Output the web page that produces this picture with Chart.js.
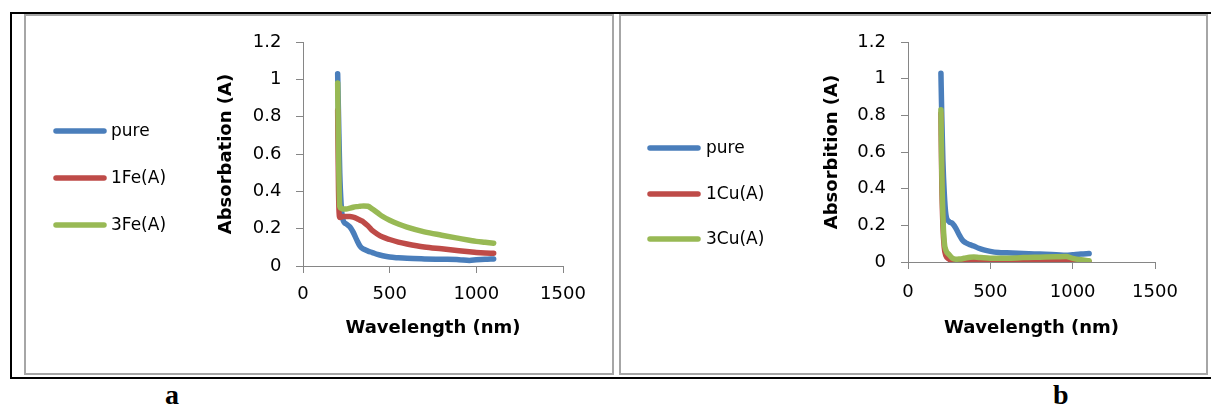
<!DOCTYPE html>
<html>
<head>
<meta charset="utf-8">
<script src="https://cdn.jsdelivr.net/npm/chart.js@4.4.0/dist/chart.umd.min.js"></script>
<style>
  body { margin: 0; width: 1211px; height: 407px; overflow: hidden; background: #fff; position: relative; }
  .outer { position: absolute; left: 10px; top: 12px; width: 1201px; height: 367px; box-sizing: border-box;
           border-left: 2px solid #000; border-top: 2px solid #000; border-bottom: 2px solid #000; }
  .panel { position: absolute; top: 14px; height: 361px; box-sizing: border-box; border: 2px solid #a6a6a6; }
  canvas { position: absolute; top: 16px; }
  .cap { position: absolute; top: 381px; font: bold 28px "Liberation Serif", serif; line-height: 28px; }
</style>
</head>
<body>
<div class="outer"></div>
<div class="panel" style="left:24px; width:590px;"></div>
<div class="panel" style="left:619px; width:589px;"></div>
<canvas id="chartFe" width="586" height="357" style="left:26px;"></canvas>
<canvas id="chartCu" width="585" height="357" style="left:621px;"></canvas>
<div class="cap" style="left:165px;">a</div>
<div class="cap" style="left:1053px;">b</div>
<script>
// UV-Vis spectra, wavelength in nm
const wavelength = [200, 205, 212, 220, 230, 250, 270, 290, 310, 330, 350, 375, 400, 430, 460, 500, 550, 600, 700, 800, 900, 960, 1000, 1050, 1100];

// panel a (Fe doped)
const fePure = [1.03, 0.80, 0.50, 0.33, 0.25, 0.225, 0.21, 0.18, 0.14, 0.105, 0.09, 0.08, 0.072, 0.062, 0.055, 0.048, 0.044, 0.041, 0.038, 0.036, 0.034, 0.030, 0.033, 0.036, 0.038];
const fe1 = [0.835, 0.40, 0.26, 0.262, 0.265, 0.265, 0.265, 0.262, 0.255, 0.245, 0.235, 0.215, 0.19, 0.17, 0.155, 0.142, 0.128, 0.118, 0.102, 0.092, 0.082, 0.076, 0.072, 0.069, 0.068];
const fe3 = [0.98, 0.60, 0.32, 0.31, 0.305, 0.305, 0.31, 0.315, 0.318, 0.32, 0.322, 0.32, 0.305, 0.285, 0.265, 0.245, 0.225, 0.208, 0.183, 0.165, 0.148, 0.138, 0.132, 0.127, 0.122];

// panel b (Cu doped)
const cuPure = [1.03, 0.80, 0.55, 0.38, 0.26, 0.22, 0.21, 0.185, 0.15, 0.12, 0.105, 0.095, 0.087, 0.075, 0.066, 0.058, 0.052, 0.05, 0.046, 0.043, 0.04, 0.037, 0.04, 0.044, 0.046];
const cu1 = [0.81, 0.45, 0.20, 0.08, 0.035, 0.015, 0.005, 0.0, 0.0, 0.0, 0.002, 0.003, 0.004, 0.004, 0.004, 0.004, 0.004, 0.005, 0.006, 0.008, 0.01, 0.01, 0.006, 0.002, 0.0];
const cu3 = [0.83, 0.50, 0.25, 0.11, 0.065, 0.04, 0.02, 0.015, 0.016, 0.018, 0.022, 0.026, 0.027, 0.025, 0.023, 0.021, 0.02, 0.02, 0.024, 0.026, 0.028, 0.03, 0.02, 0.012, 0.007];

const xTicks = [0, 500, 1000, 1500];
const yTicks = [0, 0.2, 0.4, 0.6, 0.8, 1, 1.2];

const BLUE = "#4a7ebb", RED = "#be4b48", GREEN = "#98b954", AXIS = "#868686";

Chart.defaults.font.family = "'DejaVu Sans', sans-serif";
Chart.defaults.color = "#000";

// legend drawn to the left of the plot: a thick line swatch and the label
const sideLegend = {
  id: "sideLegend",
  afterDraw(chart, args, opts) {
    const ctx = chart.ctx;
    ctx.save();
    ctx.font = "17px 'DejaVu Sans'";
    ctx.textBaseline = "middle";
    chart.data.datasets.forEach((ds, i) => {
      const y = opts.y[i];
      ctx.strokeStyle = ds.borderColor;
      ctx.lineWidth = 5.5;
      ctx.lineCap = "round";
      ctx.beginPath();
      ctx.moveTo(opts.x0, y);
      ctx.lineTo(opts.x1, y);
      ctx.stroke();
      ctx.fillStyle = "#000";
      ctx.fillText(ds.label, opts.textX, y + 1);
    });
    ctx.restore();
  }
};

function series(label, values, color, order) {
  return {
    label: label,
    data: wavelength.map((w, i) => ({ x: w, y: values[i] })),
    borderColor: color,
    backgroundColor: color,
    showLine: true,
    order: order
  };
}

function makeChart(id, datasets, p) {
  return new Chart(document.getElementById(id), {
    type: "scatter",
    data: { datasets: datasets },
    options: {
      responsive: false,
      animation: false,
      devicePixelRatio: 1,
      layout: { padding: { left: 150, top: 26, right: p.right, bottom: 34 } },
      elements: {
        point: { radius: 0, hoverRadius: 0 },
        line: { borderWidth: 5.5, tension: 0.4, cubicInterpolationMode: "monotone", borderCapStyle: "round", borderJoinStyle: "round" }
      },
      plugins: {
        legend: { display: false },
        tooltip: { enabled: false },
        sideLegend: p.legend
      },
      scales: {
        x: {
          type: "linear", min: 0, max: 1500,
          afterBuildTicks: s => { s.ticks = xTicks.map(v => ({ value: v })); },
          afterFit: s => { s.height = p.xHeight; },
          grid: { drawOnChartArea: false, color: AXIS, tickLength: 7 },
          border: { color: AXIS, width: 1 },
          ticks: { padding: p.xPad, maxRotation: 0, font: { size: 18 }, callback: v => String(v) },
          title: { display: true, text: "Wavelength (nm)", font: { size: 18, weight: "bold" }, padding: 0 }
        },
        y: {
          min: 0, max: 1.2,
          afterBuildTicks: s => { s.ticks = yTicks.map(v => ({ value: v })); },
          afterFit: s => { s.width = p.yWidth; },
          grid: { drawOnChartArea: false, color: AXIS, tickLength: 7 },
          border: { color: AXIS, width: 1 },
          ticks: { padding: p.yPad, font: { size: 18 }, callback: v => String(v) },
          title: { display: true, text: p.yTitle, font: { size: 18, weight: "bold" }, padding: { top: p.yTitlePad, bottom: 0 } }
        }
      }
    },
    plugins: [sideLegend]
  });
}

makeChart("chartFe", [
  series("pure", fePure, BLUE, 3),
  series("1Fe(A)", fe1, RED, 2),
  series("3Fe(A)", fe3, GREEN, 1)
], {
  right: 49, yWidth: 127, yPad: 14.5, yTitlePad: 40, xPad: 11, xHeight: 73,
  yTitle: "Absorbation (A)",
  legend: { x0: 30, x1: 78, textX: 85, y: [115, 162, 209] }
});

makeChart("chartCu", [
  series("pure", cuPure, BLUE, 3),
  series("1Cu(A)", cu1, RED, 2),
  series("3Cu(A)", cu3, GREEN, 1)
], {
  right: 51, yWidth: 137, yPad: 15, yTitlePad: 51, xPad: 13, xHeight: 77,
  yTitle: "Absorbition (A)",
  legend: { x0: 29, x1: 77, textX: 85, y: [132, 178, 223] }
});
</script>
</body>
</html>
